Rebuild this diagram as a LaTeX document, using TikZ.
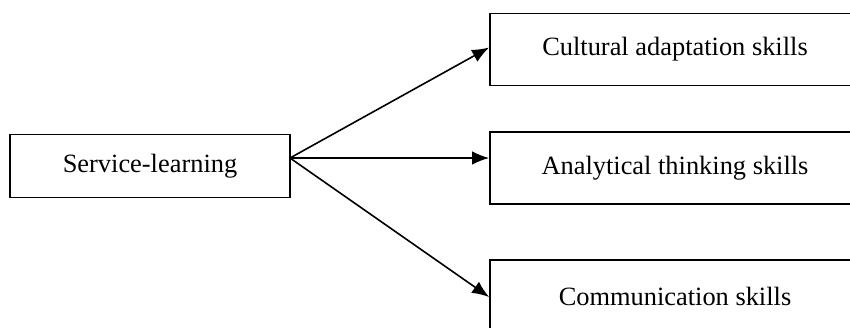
\documentclass[tikz,border=0pt]{standalone}
\usepackage{fontspec}
\setmainfont{Liberation Serif}
\usetikzlibrary{arrows.meta}

\tikzset{
  skillbox/.style={draw, line width=0.9pt, minimum width=185pt, minimum height=36pt,
                   inner sep=0pt, font=\fontsize{13.2}{16}\selectfont},
  link/.style={-{Latex[length=8.5pt,width=6.8pt]}, line width=0.8pt}
}

\begin{document}
\begin{tikzpicture}[x=0.5pt,y=-0.5pt]
                \useasboundingbox (0,0) rectangle (850,327);
                \clip (0,0) rectangle (850,327);

                \node[skillbox, minimum width=140pt, minimum height=31.5pt] (service) at (150,166) {Service-learning};
                \node[skillbox] (cultural) at (675,49.5) {Cultural adaptation skills};
                \node[skillbox] (analytical) at (675,168) {Analytical thinking skills};
                \node[skillbox] (communication) at (675,296) {Communication skills};

                \coordinate (src) at (290,158);

                \draw[link] (src) -- ([yshift=1pt]cultural.west);
                \draw[link] (src) -- (analytical.west |- src);
                \draw[link] (src) -- ([yshift=-0.5pt]communication.west);
            \end{tikzpicture}
\end{document}
